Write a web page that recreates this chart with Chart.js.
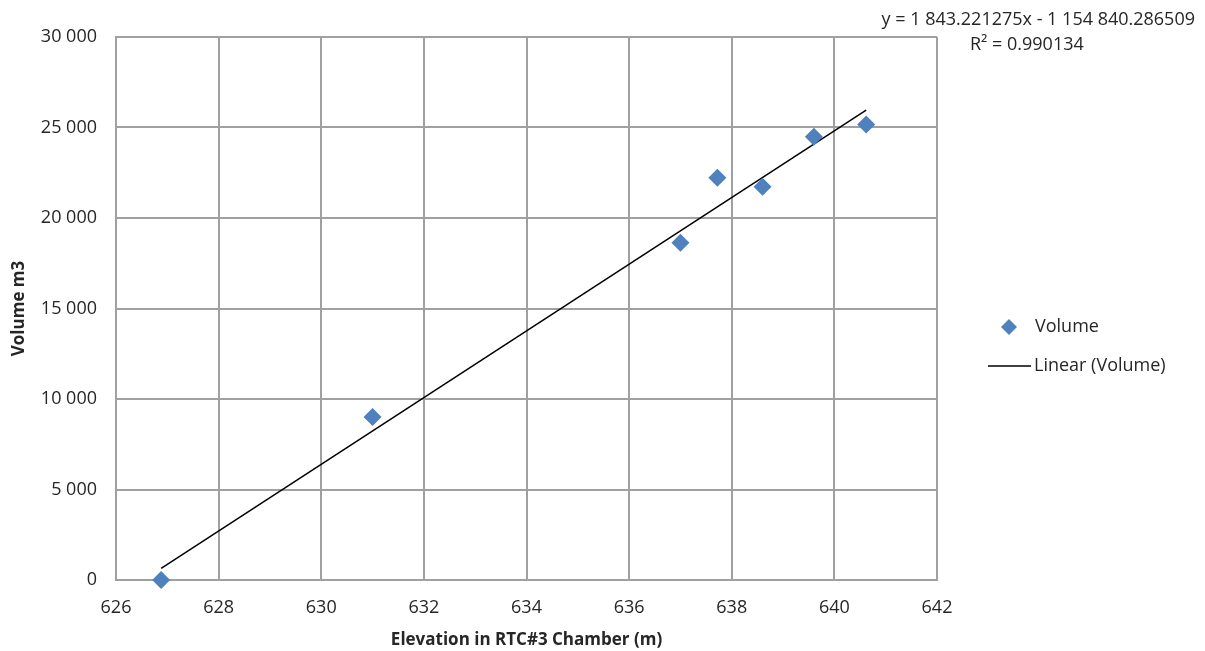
<!DOCTYPE html>
<html lang="en">
<head>
    <meta charset="UTF-8">
    <title>Volume vs Elevation</title>
    <script src="https://cdn.jsdelivr.net/npm/chart.js@4.4.1/dist/chart.umd.min.js"></script>
    <style>
        body {
            margin: 0;
            background: #ffffff;
        }
        .chart-box {
            width: 1205px;
            height: 651px;
            position: relative;
        }
    </style>
</head>
<body>
    <div class="chart-box">
        <canvas id="volChart"></canvas>
    </div>

    <script>
        // data
        const elevation = [626.88, 631.0, 637.0, 637.72, 638.6, 639.6, 640.62];
        const volume = [0, 9000, 18630, 22230, 21730, 24490, 25160];

        // trendline end points (from the Excel fit shown top right)
        const trendX = [626.88, 640.62];
        const trendY = [638, 25964];

        const xTicks = [626, 628, 630, 632, 634, 636, 638, 640, 642];
        const yTicks = [0, 5000, 10000, 15000, 20000, 25000, 30000];

        const eqText = 'y = 1 843.221275x - 1 154 840.286509';
        const r2Text = 'R² = 0.990134';

        const FONT = "'Open Sans', sans-serif";
        Chart.defaults.font.family = FONT;
        Chart.defaults.color = '#262626';

        function spaced(v) {
            return String(v).replace(/\B(?=(\d{3})+(?!\d))/g, ' ');
        }

        // legend + equation drawn by hand so they sit where Excel put them
        const extras = {
            id: 'extras',
            afterDraw(chart) {
                const c = chart.ctx;
                c.save();
                c.font = '18px ' + FONT;
                c.fillStyle = '#262626';
                c.textBaseline = 'middle';

                // equation
                c.textAlign = 'right';
                c.fillText(eqText, 1195, 20);
                c.textAlign = 'left';
                c.fillText(r2Text, 970, 45);

                // legend: marker
                const mx = 1009, my = 327, r = 8;
                c.fillStyle = '#4f81bd';
                c.beginPath();
                c.moveTo(mx, my - r);
                c.lineTo(mx + r, my);
                c.lineTo(mx, my + r);
                c.lineTo(mx - r, my);
                c.closePath();
                c.fill();

                // legend: line
                c.strokeStyle = '#000000';
                c.lineWidth = 1.5;
                c.beginPath();
                c.moveTo(988, 366);
                c.lineTo(1031, 366);
                c.stroke();

                c.fillStyle = '#262626';
                c.fillText('Volume', 1035, 327);
                c.fillText('Linear (Volume)', 1034, 366);
                c.restore();
            }
        };

        const ctx = document.getElementById('volChart').getContext('2d');
        const volChart = new Chart(ctx, {
            type: 'scatter',
            data: {
                datasets: [{
                    label: 'Volume',
                    data: elevation.map((x, i) => ({ x: x, y: volume[i] })),
                    pointStyle: 'rectRot',
                    pointRadius: 9,
                    pointHoverRadius: 9,
                    pointBorderWidth: 0,
                    backgroundColor: '#4f81bd',
                    borderColor: '#4f81bd',
                    clip: false,
                    order: 1
                }, {
                    label: 'Linear (Volume)',
                    type: 'line',
                    data: trendX.map((x, i) => ({ x: x, y: trendY[i] })),
                    borderColor: '#000000',
                    borderWidth: 1.5,
                    pointRadius: 0,
                    fill: false,
                    order: 2
                }]
            },
            options: {
                responsive: true,
                maintainAspectRatio: false,
                animation: false,
                layout: {
                    padding: { left: 0, right: 268, top: 37, bottom: 0 }
                },
                scales: {
                    x: {
                        type: 'linear',
                        min: 626,
                        max: 642,
                        afterBuildTicks: (s) => { s.ticks = xTicks.map(v => ({ value: v })); },
                        afterFit: (s) => { s.height = 71; },
                        grid: {
                            color: '#a0a0a0',
                            lineWidth: 2,
                            drawTicks: false
                        },
                        border: { color: '#a0a0a0', width: 2 },
                        ticks: {
                            padding: 17,
                            font: { size: 18 },
                            color: '#262626'
                        },
                        title: {
                            display: true,
                            text: 'Elevation in RTC#3 Chamber (m)',
                            font: { size: 17, weight: 'bold' },
                            color: '#262626',
                            padding: { top: 0, bottom: 1 }
                        }
                    },
                    y: {
                        min: 0,
                        max: 30000,
                        afterBuildTicks: (s) => { s.ticks = yTicks.map(v => ({ value: v })); },
                        afterFit: (s) => { s.width = 116; },
                        grid: {
                            color: '#a0a0a0',
                            lineWidth: 2,
                            drawTicks: false
                        },
                        border: { color: '#a0a0a0', width: 2 },
                        ticks: {
                            padding: 19,
                            font: { size: 18 },
                            color: '#262626',
                            callback: (v) => spaced(v)
                        },
                        title: {
                            display: true,
                            text: 'Volume m3',
                            font: { size: 17, weight: 'bold' },
                            color: '#262626',
                            padding: { top: 9, bottom: 0 }
                        }
                    }
                },
                plugins: {
                    legend: { display: false },
                    tooltip: { enabled: false }
                }
            },
            plugins: [extras]
        });
    </script>
</body>
</html>
